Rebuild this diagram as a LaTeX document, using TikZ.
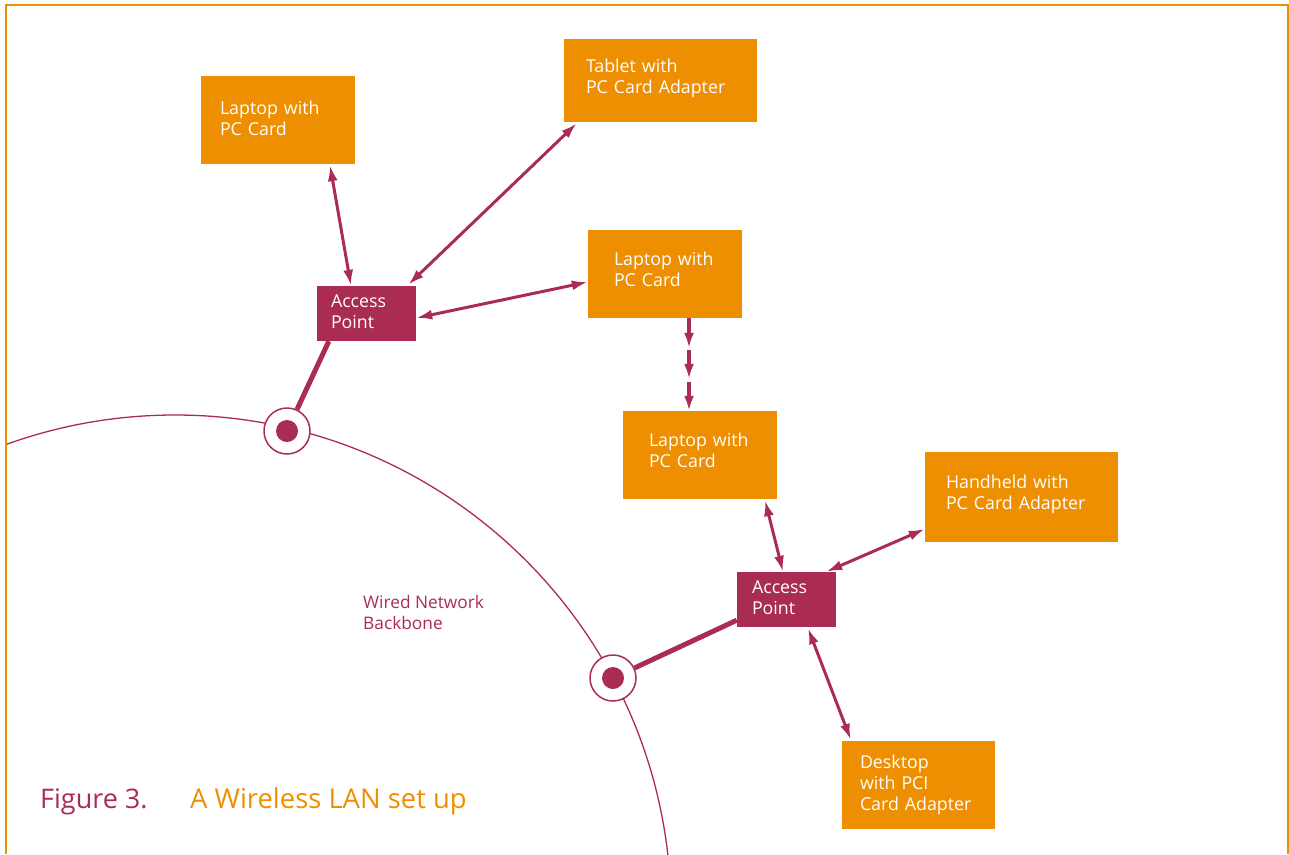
\documentclass[tikz,border=0pt]{standalone}
\usepackage{fontspec}
\setmainfont{Open Sans}
\usetikzlibrary{arrows.meta,calc}
\definecolor{orng}{RGB}{237,143,0}
\definecolor{crim}{RGB}{170,44,82}
\newcommand{\lift}{\rule[-4pt]{0pt}{4pt}}
\begin{document}
\begin{tikzpicture}[x=1pt,y=-1pt,
  obox/.style={fill=orng,text=white,align=left,inner ysep=0pt,font=\fontsize{17.8pt}{21pt}\selectfont},
  abox/.style={fill=crim,text=white,align=left,inner ysep=0pt,font=\fontsize{17.8pt}{21pt}\selectfont},
  conn/.style={draw=crim,line width=3pt,{Latex[length=16pt,width=10pt]}-{Latex[length=16pt,width=10pt]}},
  oneway/.style={draw=crim,line width=3.2pt,-{Latex[length=15pt,width=10pt]}},
  wire/.style={draw=crim,line width=5pt},
  tap/.style={circle,draw=crim,line width=1.5pt,fill=white,minimum size=46pt,inner sep=0pt}]
\useasboundingbox (0,0) rectangle (1289,854);
% frame
\draw[orng,line width=2.5pt] (6,854) -- (6,5) -- (1288,5) -- (1288,854);
% backbone arc
\begin{scope}
\clip (7,7) rectangle (1287,854);
\draw[crim,line width=1.3pt] (175,911) circle (496pt);
\end{scope}
% boxes
\node[obox,minimum width=154pt,minimum height=88pt,text width=116pt,inner xsep=19pt] (L1) at (278,120) {Laptop with\\PC Card\lift};
\node[obox,minimum width=193pt,minimum height=83pt,text width=149pt,inner xsep=22pt] (Tab) at (660.5,80.5) {Tablet with\\PC Card Adapter\rule[-9pt]{0pt}{9pt}};
\node[obox,minimum width=154pt,minimum height=88pt,text width=102pt,inner xsep=26pt] (L2) at (665,274) {Laptop with\\PC Card\rule[-9pt]{0pt}{9pt}};
\node[abox,minimum width=99pt,minimum height=55pt,text width=71pt,inner xsep=14pt] (AP1) at (366.5,313.5) {Access\\Point\lift};
\node[obox,minimum width=154pt,minimum height=88pt,text width=102pt,inner xsep=26pt] (L3) at (700,455) {Laptop with\\PC Card\rule[-9pt]{0pt}{9pt}};
\node[obox,minimum width=193pt,minimum height=90pt,text width=151pt,inner xsep=21pt] (HH) at (1021.5,497) {Handheld with\\PC Card Adapter\rule[-9pt]{0pt}{9pt}};
\node[abox,minimum width=99pt,minimum height=55pt,text width=69pt,inner xsep=15pt] (AP2) at (786.5,599.5) {Access\\Point\lift};
\node[obox,minimum width=153pt,minimum height=88pt,text width=117pt,inner xsep=18pt] (DT) at (918.5,785) {Desktop\\with PCI\\Card Adapter};
% wired links
\node[tap] (C1) at (287,431) {};
\node[tap] (C2) at (613,678) {};
\draw[wire] ([xshift=12pt]AP1.south west) -- (C1);
\draw[wire] ([yshift=7pt]AP2.south west) -- (C2);
\fill[crim] (C1.center) circle (11pt);
\fill[crim] (C2.center) circle (11pt);
% wireless links
\draw[conn] ([xshift=52pt,yshift=-1pt]L1.south) -- ([xshift=-15.5pt]AP1.north);
\draw[conn] ([xshift=13pt,yshift=-1pt]Tab.south west) -- ([xshift=-8pt,yshift=1pt]AP1.north east);
\draw[conn] ([yshift=-8pt]L2.west) -- ([yshift=-4.5pt]AP1.east);
\coordinate (da) at ([xshift=24pt]L2.south);
\coordinate (db) at ([xshift=-11pt]L3.north);
\draw[oneway] (da) -- ($(da)!0.32!(db)$);
\draw[oneway] ($(da)!0.345!(db)$) -- ($(da)!0.655!(db)$);
\draw[oneway] ($(da)!0.69!(db)$) -- (db);
\draw[conn] ([xshift=65pt,yshift=-1pt]L3.south) -- ([xshift=-3.5pt]AP2.north);
\draw[conn] ([yshift=-32pt]HH.west) -- ([xshift=-10pt]AP2.north east);
\draw[conn] ([xshift=9pt,yshift=1pt]DT.north west) -- ([xshift=21.5pt,yshift=-1pt]AP2.south);
% labels
\node[anchor=north west,inner sep=0pt,align=left,text=crim,font=\fontsize{17.3pt}{21pt}\selectfont] (wnb) at (363,595) {Wired Network\\Backbone};
\node[anchor=base west,inner sep=0pt,text=crim,font=\fontsize{27pt}{32pt}\selectfont] (fig) at (40,808) {Figure 3.};
\node[anchor=base west,inner sep=0pt,text=orng,font=\fontsize{27.4pt}{32pt}\selectfont] (cap) at (190,808) {A Wireless LAN set up};
\end{tikzpicture}
\end{document}
